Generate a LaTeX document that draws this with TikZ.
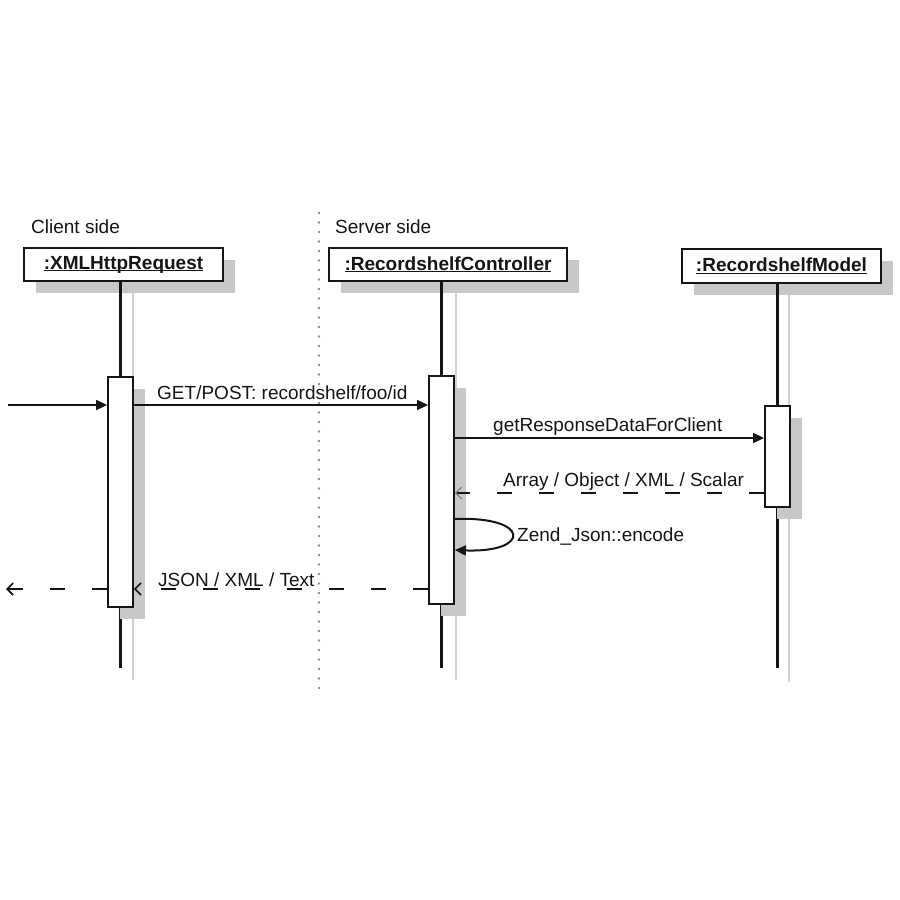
\documentclass[tikz,border=0pt]{standalone}
\usepackage{fontspec}
\setmainfont{Liberation Sans}
\usetikzlibrary{arrows.meta}
\definecolor{ink}{HTML}{151515}
\definecolor{shade}{HTML}{C8C8C8}
\definecolor{lifeshadecol}{HTML}{D2D2D2}
\definecolor{dotcol}{HTML}{8A8A8A}
% object name: bold with a rule just under the baseline
\newcommand\objname[1]{\setbox0\hbox{#1}\rlap{\rule[-2.2pt]{\wd0}{1.4pt}}\box0}
\begin{document}
\begin{tikzpicture}[x=1pt,y=-1pt,
  txt/.style={inner sep=0pt, anchor=base west, font=\fontsize{19}{22}\selectfont, text=ink},
  objbox/.style={draw=ink, line width=2pt, fill=white, inner sep=0pt, minimum height=33pt,
                 font=\fontsize{19}{22}\selectfont\bfseries, text=ink},
  shadowbox/.style={fill=shade, draw=none},
  actbar/.style={draw=ink, line width=1.8pt, fill=white, inner sep=0pt, minimum width=25pt},
  life/.style={draw=ink, line width=2.2pt},
  lifeshade/.style={draw=lifeshadecol, line width=1.5pt},
  call/.style={draw=ink, line width=1.7pt, -{Triangle[length=11pt,width=10pt]}},
  reply/.style={draw=ink, line width=1.7pt, dash pattern=on 15pt off 27pt,
                -{Straight Barb[length=6pt,width=12pt,line width=1.6pt]}}
]
\useasboundingbox (0,0) rectangle (900,900);

% partition between client and server
\draw[dotcol, line width=2.6pt, line cap=round, dash pattern=on 0pt off 9.5pt] (319,213) -- (319,690);
\node[txt] (client) at (31,233) {Client side};
\node[txt] (server) at (335,233) {Server side};

% drop shadows of the object boxes and their lifelines
\fill[shadowbox] (36,260) rectangle (235,293);
\fill[shadowbox] (341,260) rectangle (579,293);
\fill[shadowbox] (694,261) rectangle (893,295);
\draw[lifeshade] (133,293) -- (133,680);
\draw[lifeshade] (456,293) -- (456,680);
\draw[lifeshade] (789,295) -- (789,682);

% objects
\node[objbox, minimum width=199pt] (xb) at (123.5,264.5) {\objname{:XMLHttpRequest}};
\node[objbox, minimum width=238pt] (cb) at (448,264.5) {\objname{:RecordshelfController}};
\node[objbox, minimum width=199pt, minimum height=34pt] (mb) at (781.5,266) {\objname{:RecordshelfModel}};

% lifelines
\coordinate (xend) at (120.5,668);
\coordinate (cend) at (441.5,668);
\coordinate (mend) at (777.5,668);
\draw[life] (xend |- xb.south) -- (xend);
\draw[life] (cend |- cb.south) -- (cend);
\draw[life] (mend |- mb.south) -- (mend);

% activation shadows
\fill[shadowbox] (120,389) rectangle (145,619);
\fill[shadowbox] (441,388) rectangle (466,616);
\fill[shadowbox] (777,418) rectangle (802,519);

% activation bars
\node[actbar, minimum height=230pt] (xa) at (120.5,492) {};
\node[actbar, minimum height=228pt] (ca) at (441.5,490) {};
\node[actbar, minimum height=101pt] (ma) at (777.5,456.5) {};

% messages
\coordinate (in) at (8,405);
\coordinate (out) at (6,589);
\draw[call] (in) -- (xa.west |- in);
\draw[call] (xa.east |- in) -- (ca.west |- in);
\node[txt] (getlbl) at (157,399) {GET/POST: recordshelf/foo/id};

\draw[call] (ca.east |- 0,438) -- (ma.west |- 0,438);
\node[txt] (resplbl) at (493,431) {getResponseDataForClient};

\draw[reply, -{Straight Barb[length=6pt,width=12pt,line width=1.2pt,color=gray]}]
  (ma.west |- 0,493) -- (ca.east |- 0,493);
\node[txt] (datalbl) at (503,486) {Array / Object / XML / Scalar};

\draw[call, line width=2pt] (ca.east |- 0,519) .. controls (531,516) and (531,553) .. (ca.east |- 0,550);
\node[txt] (enclbl) at (517,541) {Zend\_Json::encode};

\draw[reply] (ca.west |- 0,589) -- (xa.east |- 0,589);
\draw[reply] (xa.west |- 0,589) -- (out);
\node[txt] (jsonlbl) at (158,586) {JSON / XML / Text};
\end{tikzpicture}
\end{document}
